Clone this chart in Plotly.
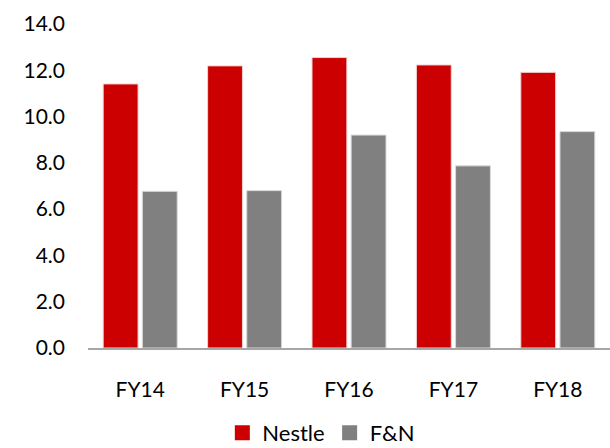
import plotly.graph_objects as go

# Fiscal years and the two companies' values
years = ["FY14", "FY15", "FY16", "FY17", "FY18"]
nestle = [11.41, 12.19, 12.55, 12.23, 11.91]
fn = [6.77, 6.80, 9.20, 7.87, 9.35]
y_ticks = [0, 2, 4, 6, 8, 10, 12, 14]

FONT = "Lato, 'Open Sans', sans-serif"
RED = "#CC0000"
GREY = "#808080"

fig = go.Figure()
fig.add_trace(go.Bar(
    name="Nestle", x=years, y=nestle, showlegend=False,
    marker=dict(color=RED, line=dict(color="#F2D0D0", width=1)),
))
fig.add_trace(go.Bar(
    name="F&N", x=years, y=fn, showlegend=False,
    marker=dict(color=GREY, line=dict(color="#D9D9D9", width=1)),
))

# Legend entries with larger square swatches
for name, color in [("Nestle", RED), ("F&N", GREY)]:
    fig.add_trace(go.Scatter(
        name=name, x=[None], y=[None], mode="markers",
        marker=dict(symbol="square", size=15, color=color),
    ))

fig.update_layout(
    width=610, height=448,
    margin=dict(l=88, r=0, t=24, b=100, autoexpand=False),
    paper_bgcolor="white", plot_bgcolor="white",
    barmode="group", bargap=0.25, bargroupgap=0.11,
    font=dict(family=FONT, size=21, color="#000000"),
    legend=dict(
        orientation="h", xref="paper", yref="paper",
        x=0.447, xanchor="center", y=-0.262, yanchor="middle",
        font=dict(size=22), itemwidth=30, traceorder="normal",
        tracegroupgap=0,
    ),
    showlegend=True,
)
fig.update_xaxes(
    showline=True, linecolor="#A6A6A6", linewidth=2,
    showgrid=False, ticks="", ticklabelstandoff=22,
)
fig.update_yaxes(
    range=[0, 14], tickvals=y_ticks, tickformat=".1f",
    showline=False, showgrid=False, zeroline=False, ticks="",
    ticklabelstandoff=22,
)

fig.write_html("out.html")
